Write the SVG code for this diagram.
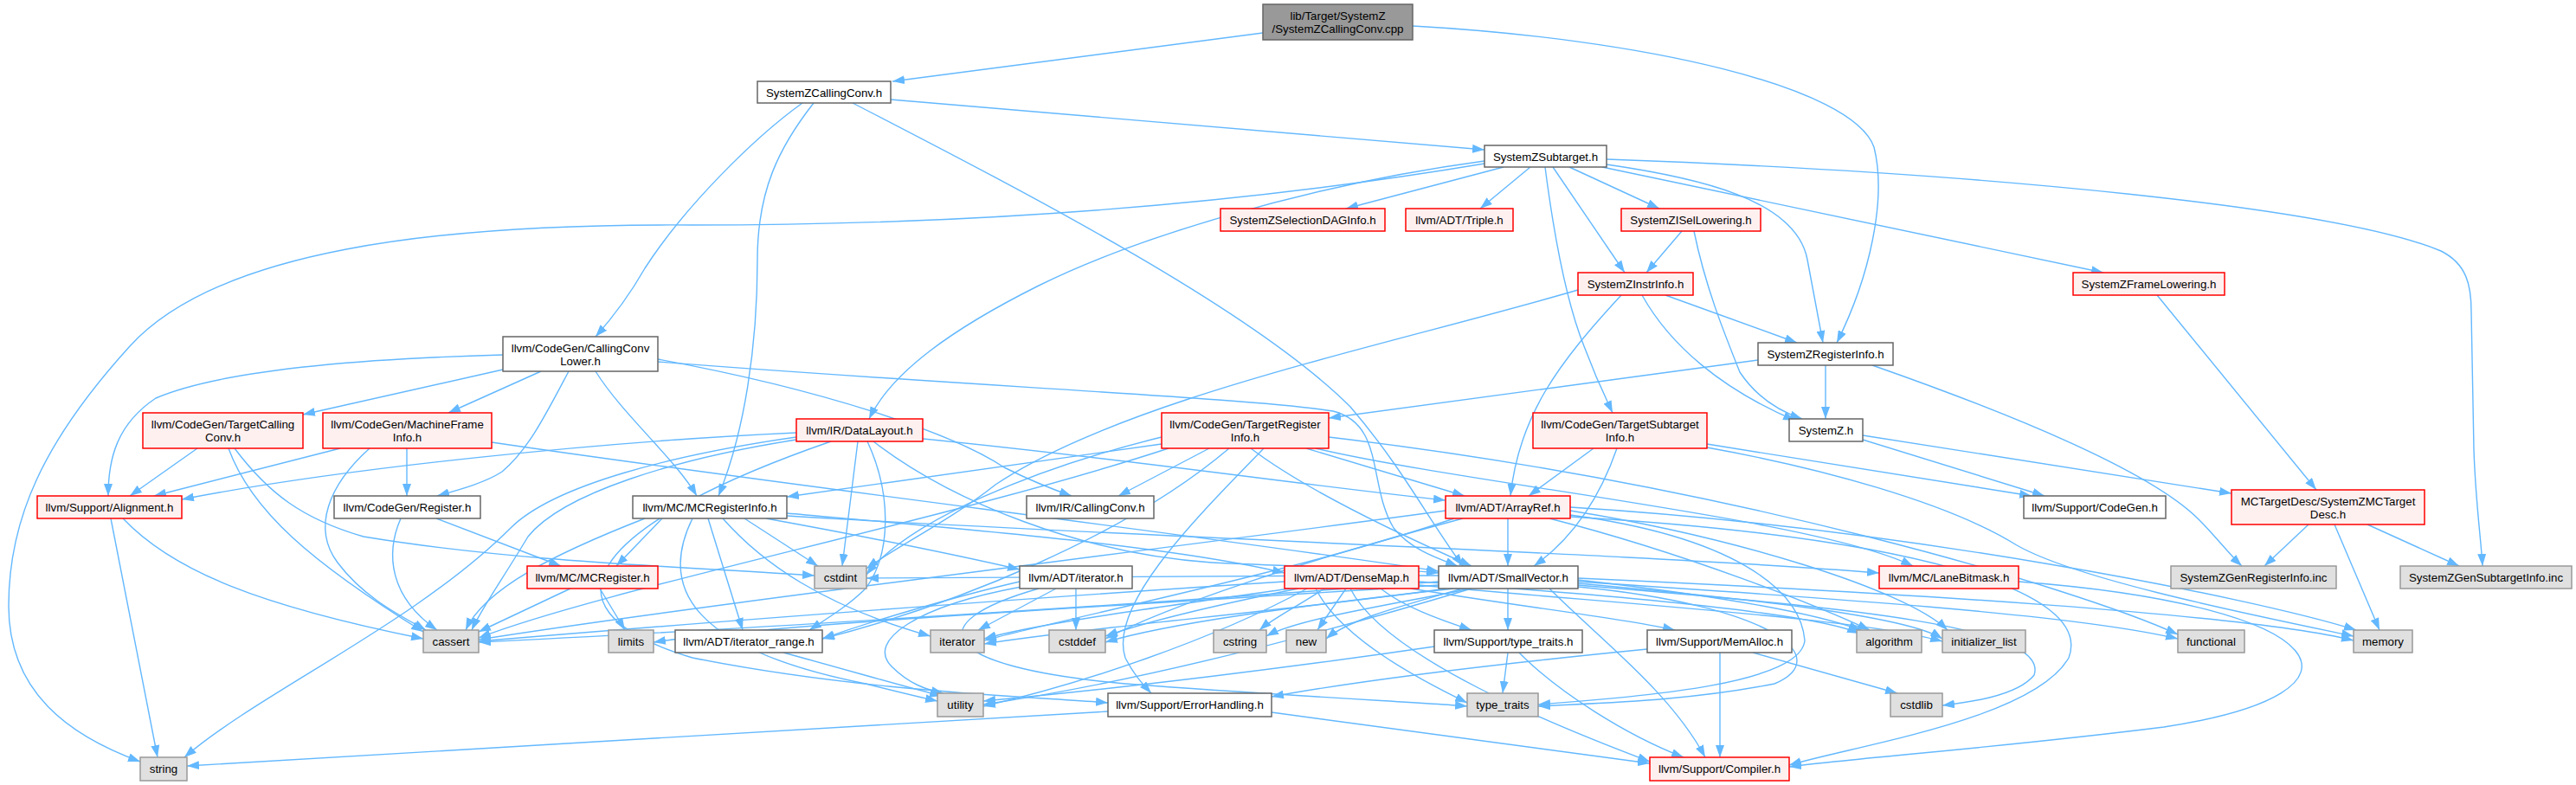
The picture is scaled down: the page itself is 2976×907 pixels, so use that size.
<svg xmlns="http://www.w3.org/2000/svg" width="2976" height="907" viewBox="0 0 2976 907">
<defs>
<marker id="a" markerUnits="userSpaceOnUse" markerWidth="14" markerHeight="10" refX="14" refY="5" orient="auto"><path d="M0,0 L14,5 L0,10 z" fill="#63b8ff"/></marker>
<style>
.e{fill:none;stroke:#63b8ff;stroke-width:1.4;marker-end:url(#a)}
rect{stroke-width:1.5}
.w{fill:#fff;stroke:#666}
.r{fill:#fff0f0;stroke:#f00}
.g{fill:#e0e0e0;stroke:#999}
.t{fill:#999;stroke:#666}
text{font-family:"Liberation Sans",Arial,sans-serif;font-size:13.3px;text-anchor:middle;fill:#000}
</style>
</defs>
<rect x="0" y="0" width="2976" height="907" fill="#fff" stroke="none"/>
<g id="edges">
<path class="e" d="M1459,38 L1031,94"/>
<path class="e" d="M1632,30 C1900,45 2140,100 2165,170 C2180,230 2160,320 2122,396"/>
<path class="e" d="M1029,115 L1715,173"/>
<path class="e" d="M927,119 C870,160 790,240 745,310 C725,345 705,370 688,389"/>
<path class="e" d="M940,119 C900,170 875,220 875,300 C875,400 860,500 830,573"/>
<path class="e" d="M985,119 C1200,230 1450,360 1560,470 C1620,540 1650,600 1690,654"/>
<path class="e" d="M1737,193 L1555,241"/>
<path class="e" d="M1768,193 L1710,241"/>
<path class="e" d="M1813,193 L1917,241"/>
<path class="e" d="M1794,193 L1877,315"/>
<path class="e" d="M1856,190 C1960,205 2075,230 2088,300 L2106,396"/>
<path class="e" d="M1785,193 C1795,270 1810,350 1830,400 C1845,440 1855,460 1863,477"/>
<path class="e" d="M1715,186 C1500,215 1300,280 1200,330 C1100,380 1030,430 1004,484"/>
<path class="e" d="M1715,189 C1500,225 1200,260 800,260 C500,258 250,290 150,400 C50,510 10,600 10,700 C10,800 80,850 162,880"/>
<path class="e" d="M1851,193 L2430,315"/>
<path class="e" d="M1856,184 C2300,200 2700,240 2820,290 C2850,305 2855,330 2855,360 L2858,520 C2860,580 2866,620 2868,654"/>
<path class="e" d="M1943,267 L1902,315"/>
<path class="e" d="M1957,267 C1970,330 1990,380 2010,430 C2030,460 2055,475 2082,484"/>
<path class="e" d="M1924,341 L2076,396"/>
<path class="e" d="M1897,341 C1930,400 1990,450 2074,486"/>
<path class="e" d="M1873,341 C1800,420 1755,480 1745,573"/>
<path class="e" d="M1823,335 C1600,400 1300,460 1150,560 C1100,600 1030,635 1001,657"/>
<path class="e" d="M2109,422 L2109,484"/>
<path class="e" d="M2031,416 L1535,483"/>
<path class="e" d="M2163,422 C2300,470 2480,540 2540,600 C2560,620 2575,640 2590,654"/>
<path class="e" d="M2152,503 L2578,570"/>
<path class="e" d="M2152,508 L2362,573"/>
<path class="e" d="M2492,341 L2676,566"/>
<path class="e" d="M2667,606 L2616,654"/>
<path class="e" d="M2735,606 L2841,654"/>
<path class="e" d="M2697,606 L2749,728"/>
<path class="e" d="M1841,518 L1766,573"/>
<path class="e" d="M1868,518 C1850,570 1820,620 1772,654"/>
<path class="e" d="M1972,513 L2347,573"/>
<path class="e" d="M1972,517 C2100,540 2250,580 2330,630 C2400,670 2600,710 2719,735"/>
<path class="e" d="M581,410 C400,415 250,430 180,460 C135,490 125,530 125,573"/>
<path class="e" d="M581,427 L350,479"/>
<path class="e" d="M625,429 L518,477"/>
<path class="e" d="M657,429 C630,480 610,520 580,545 C560,558 530,566 505,573"/>
<path class="e" d="M688,429 C720,480 780,530 805,573"/>
<path class="e" d="M760,415 C950,450 1100,500 1160,540 C1190,555 1215,565 1238,573"/>
<path class="e" d="M760,418 C1100,445 1450,460 1540,475 C1600,490 1580,560 1610,610 C1630,635 1660,645 1684,654"/>
<path class="e" d="M228,518 L150,573"/>
<path class="e" d="M264,518 C290,590 360,650 489,730"/>
<path class="e" d="M271,518 C310,570 350,600 420,620 C600,650 800,655 941,665"/>
<path class="e" d="M393,518 L178,573"/>
<path class="e" d="M470,518 L470,573"/>
<path class="e" d="M427,518 C380,560 360,610 390,650 C420,690 460,710 492,728"/>
<path class="e" d="M568,511 C900,560 1400,620 1662,660"/>
<path class="e" d="M504,599 L648,654"/>
<path class="e" d="M463,599 C445,640 450,690 505,728"/>
<path class="e" d="M128,599 L182,875"/>
<path class="e" d="M142,599 C200,660 300,700 489,738"/>
<path class="e" d="M659,680 L553,730"/>
<path class="e" d="M693,680 L722,728"/>
<path class="e" d="M765,599 L712,654"/>
<path class="e" d="M745,599 C640,640 560,680 538,728"/>
<path class="e" d="M860,599 L945,654"/>
<path class="e" d="M818,599 L858,728"/>
<path class="e" d="M835,599 C880,650 950,700 1075,735"/>
<path class="e" d="M885,599 C1000,620 1100,640 1178,658"/>
<path class="e" d="M800,599 C760,680 800,750 1000,790 C1040,800 1060,805 1083,810"/>
<path class="e" d="M909,593 C1100,610 1350,630 1484,662"/>
<path class="e" d="M909,596 C1300,620 1900,640 2171,662"/>
<path class="e" d="M920,500 C700,510 400,540 210,577"/>
<path class="e" d="M920,508 C780,530 650,570 610,620 C580,670 555,705 545,728"/>
<path class="e" d="M920,505 C780,525 640,560 590,610 C480,720 300,800 213,875"/>
<path class="e" d="M991,510 L973,654"/>
<path class="e" d="M1066,507 C1300,530 1500,560 1670,578"/>
<path class="e" d="M1002,510 C1030,570 1030,640 1000,680 C980,700 955,715 935,728"/>
<path class="e" d="M1009,510 C1100,580 1250,640 1400,650 C1500,655 1600,656 1662,662"/>
<path class="e" d="M960,510 C700,600 600,700 800,760 C1000,800 1200,805 1280,812"/>
<path class="e" d="M1342,513 L909,574"/>
<path class="e" d="M1397,518 L1292,573"/>
<path class="e" d="M1509,518 L1692,573"/>
<path class="e" d="M1520,518 C1700,560 2100,600 2210,654"/>
<path class="e" d="M1445,518 C1500,560 1600,610 1700,654"/>
<path class="e" d="M1350,518 C1100,600 700,680 553,737"/>
<path class="e" d="M1342,505 C1200,540 1050,600 1001,664"/>
<path class="e" d="M1420,518 C1300,620 1100,700 950,738"/>
<path class="e" d="M1535,505 C2000,560 2400,680 2516,733"/>
<path class="e" d="M1460,518 C1380,600 1280,700 1300,760 C1310,780 1320,790 1330,801"/>
<path class="e" d="M1742,599 L1742,654"/>
<path class="e" d="M1670,590 C1300,640 800,700 553,739"/>
<path class="e" d="M1690,599 C1500,650 1350,700 1277,738"/>
<path class="e" d="M1680,599 C1500,660 1250,710 1137,740"/>
<path class="e" d="M1790,599 C1950,640 2100,700 2160,728"/>
<path class="e" d="M1814,590 C2000,620 2200,680 2250,728"/>
<path class="e" d="M1814,586 C2200,610 2600,690 2722,728"/>
<path class="e" d="M1814,595 C2000,620 2080,680 2085,740 C2080,790 1900,805 1777,814"/>
<path class="e" d="M1814,597 C2200,620 2420,680 2390,760 C2350,830 2150,860 2067,884"/>
<path class="e" d="M1742,680 L1742,728"/>
<path class="e" d="M1790,680 C1850,740 1930,800 1970,875"/>
<path class="e" d="M1823,670 C2000,690 2100,710 2150,728"/>
<path class="e" d="M1662,672 C1300,700 800,730 553,742"/>
<path class="e" d="M1680,680 C1500,700 1350,720 1277,742"/>
<path class="e" d="M1662,665 C1400,665 1100,668 1001,668"/>
<path class="e" d="M1823,676 C2100,700 2370,720 2350,780 C2330,805 2270,812 2244,815"/>
<path class="e" d="M1700,680 C1600,700 1500,715 1463,735"/>
<path class="e" d="M1823,672 C2100,690 2400,710 2516,738"/>
<path class="e" d="M1823,674 C2000,690 2200,710 2244,738"/>
<path class="e" d="M1670,680 C1500,705 1250,725 1137,744"/>
<path class="e" d="M1662,676 C1300,700 900,720 755,742"/>
<path class="e" d="M1823,668 C2200,685 2600,710 2719,740"/>
<path class="e" d="M1690,680 C1620,700 1560,715 1532,738"/>
<path class="e" d="M1823,678 C2050,700 2120,760 2050,790 C1950,810 1850,812 1777,816"/>
<path class="e" d="M1700,680 C1500,740 1300,790 1136,814"/>
<path class="e" d="M1555,680 L1522,728"/>
<path class="e" d="M1595,680 C1620,700 1660,715 1700,728"/>
<path class="e" d="M1630,680 C1750,700 1880,715 1935,728"/>
<path class="e" d="M1639,672 C1900,690 2100,710 2148,732"/>
<path class="e" d="M1484,672 C1200,690 800,720 553,741"/>
<path class="e" d="M1500,680 C1400,700 1320,720 1277,735"/>
<path class="e" d="M1530,680 C1500,700 1470,715 1455,728"/>
<path class="e" d="M1490,680 C1350,700 1200,720 1137,738"/>
<path class="e" d="M1510,680 C1400,740 1250,790 1136,816"/>
<path class="e" d="M1520,680 C1550,740 1650,790 1695,812"/>
<path class="e" d="M1560,680 C1600,760 1800,840 1906,880"/>
<path class="e" d="M1639,676 C1900,700 2150,715 2244,741"/>
<path class="e" d="M1178,672 C1100,690 1000,720 950,738"/>
<path class="e" d="M1243,680 L1243,728"/>
<path class="e" d="M1220,680 L1130,728"/>
<path class="e" d="M1180,678 C1060,700 1000,740 1030,770 C1050,790 1070,797 1090,801"/>
<path class="e" d="M1200,680 C1060,720 1080,770 1300,790 C1500,805 1650,812 1695,816"/>
<path class="e" d="M905,754 C1000,780 1050,795 1088,804"/>
<path class="e" d="M1742,754 L1736,801"/>
<path class="e" d="M1657,747 C1500,770 1300,795 1136,810"/>
<path class="e" d="M1755,754 C1800,800 1880,850 1945,875"/>
<path class="e" d="M1987,754 L1987,875"/>
<path class="e" d="M1903,750 C1700,770 1550,790 1469,805"/>
<path class="e" d="M2025,754 L2192,801"/>
<path class="e" d="M1469,823 L1906,882"/>
<path class="e" d="M1280,822 L216,885"/>
<path class="e" d="M2332,672 C2700,700 2760,800 2500,840 C2300,865 2150,875 2067,886"/>
</g>
<g id="n_top"><rect class="t" x="1459" y="5" width="173" height="41"/><text x="1545.5" y="23">lib/Target/SystemZ</text><text x="1545.5" y="38">/SystemZCallingConv.cpp</text></g>
<g id="n_cc"><rect class="w" x="875" y="94" width="154" height="25"/><text x="952" y="111.5">SystemZCallingConv.h</text></g>
<g id="n_sub"><rect class="w" x="1715" y="168" width="141" height="25"/><text x="1785.5" y="185.5">SystemZSubtarget.h</text></g>
<g id="n_sdag"><rect class="r" x="1410" y="241" width="190" height="26"/><text x="1505" y="258.8">SystemZSelectionDAGInfo.h</text></g>
<g id="n_triple"><rect class="r" x="1624" y="241" width="124" height="26"/><text x="1686" y="258.8">llvm/ADT/Triple.h</text></g>
<g id="n_isel"><rect class="r" x="1873" y="241" width="161" height="26"/><text x="1953.5" y="258.8">SystemZISelLowering.h</text></g>
<g id="n_frame"><rect class="r" x="2395" y="315" width="175" height="26"/><text x="2482.5" y="332.8">SystemZFrameLowering.h</text></g>
<g id="n_instr"><rect class="r" x="1823" y="315" width="133" height="26"/><text x="1889.5" y="332.8">SystemZInstrInfo.h</text></g>
<g id="n_reginfo"><rect class="w" x="2031" y="396" width="156" height="26"/><text x="2109" y="413.8">SystemZRegisterInfo.h</text></g>
<g id="n_systemz"><rect class="w" x="2067" y="484" width="85" height="26"/><text x="2109.5" y="501.8">SystemZ.h</text></g>
<g id="n_tsi"><rect class="r" x="1771" y="477" width="201" height="41"/><text x="1871.5" y="494.5">llvm/CodeGen/TargetSubtarget</text><text x="1871.5" y="509.5">Info.h</text></g>
<g id="n_arrayref"><rect class="r" x="1670" y="573" width="144" height="26"/><text x="1742" y="590.8">llvm/ADT/ArrayRef.h</text></g>
<g id="n_mctd"><rect class="r" x="2578" y="566" width="223" height="40"/><text x="2689.5" y="583.5">MCTargetDesc/SystemZMCTarget</text><text x="2689.5" y="598.5">Desc.h</text></g>
<g id="n_cgh"><rect class="w" x="2338" y="573" width="164" height="26"/><text x="2420" y="590.8">llvm/Support/CodeGen.h</text></g>
<g id="n_genreg"><rect class="g" x="2508" y="654" width="191" height="26"/><text x="2603.5" y="671.8">SystemZGenRegisterInfo.inc</text></g>
<g id="n_gensub"><rect class="g" x="2773" y="654" width="198" height="26"/><text x="2872" y="671.8">SystemZGenSubtargetInfo.inc</text></g>
<g id="n_lane"><rect class="r" x="2171" y="654" width="161" height="26"/><text x="2251.5" y="671.8">llvm/MC/LaneBitmask.h</text></g>
<g id="n_initl"><rect class="g" x="2244" y="728" width="96" height="26"/><text x="2292" y="745.8">initializer_list</text></g>
<g id="n_functional"><rect class="g" x="2516" y="728" width="77" height="26"/><text x="2554.5" y="745.8">functional</text></g>
<g id="n_memory"><rect class="g" x="2719" y="728" width="68" height="26"/><text x="2753" y="745.8">memory</text></g>
<g id="n_cstdlib"><rect class="g" x="2184" y="801" width="60" height="27"/><text x="2214" y="819">cstdlib</text></g>
<g id="n_dl"><rect class="r" x="920" y="484" width="146" height="26"/><text x="993" y="501.8">llvm/IR/DataLayout.h</text></g>
<g id="n_tri"><rect class="r" x="1342" y="477" width="193" height="41"/><text x="1438.5" y="494.5">llvm/CodeGen/TargetRegister</text><text x="1438.5" y="509.5">Info.h</text></g>
<g id="n_mcri"><rect class="w" x="731" y="573" width="178" height="26"/><text x="820" y="590.8">llvm/MC/MCRegisterInfo.h</text></g>
<g id="n_ircc"><rect class="w" x="1186" y="573" width="147" height="26"/><text x="1259.5" y="590.8">llvm/IR/CallingConv.h</text></g>
<g id="n_ccl"><rect class="w" x="581" y="389" width="179" height="40"/><text x="670.5" y="406.5">llvm/CodeGen/CallingConv</text><text x="670.5" y="421.5">Lower.h</text></g>
<g id="n_tcc"><rect class="r" x="165" y="477" width="185" height="41"/><text x="257.5" y="494.5">llvm/CodeGen/TargetCalling</text><text x="257.5" y="509.5">Conv.h</text></g>
<g id="n_mfi"><rect class="r" x="373" y="477" width="195" height="41"/><text x="470.5" y="494.5">llvm/CodeGen/MachineFrame</text><text x="470.5" y="509.5">Info.h</text></g>
<g id="n_align"><rect class="r" x="43" y="573" width="167" height="26"/><text x="126.5" y="590.8">llvm/Support/Alignment.h</text></g>
<g id="n_reg"><rect class="w" x="386" y="573" width="169" height="26"/><text x="470.5" y="590.8">llvm/CodeGen/Register.h</text></g>
<g id="n_mcreg"><rect class="r" x="609" y="654" width="151" height="26"/><text x="684.5" y="671.8">llvm/MC/MCRegister.h</text></g>
<g id="n_cassert"><rect class="g" x="489" y="728" width="64" height="26"/><text x="521" y="745.8">cassert</text></g>
<g id="n_limits"><rect class="g" x="703" y="728" width="52" height="26"/><text x="729" y="745.8">limits</text></g>
<g id="n_string"><rect class="g" x="162" y="875" width="54" height="27"/><text x="189" y="893">string</text></g>
<g id="n_cstdint"><rect class="g" x="941" y="654" width="60" height="26"/><text x="971" y="671.8">cstdint</text></g>
<g id="n_iter"><rect class="w" x="1178" y="654" width="130" height="26"/><text x="1243" y="671.8">llvm/ADT/iterator.h</text></g>
<g id="n_iterrange"><rect class="w" x="780" y="728" width="170" height="26"/><text x="865" y="745.8">llvm/ADT/iterator_range.h</text></g>
<g id="n_iterator"><rect class="g" x="1075" y="728" width="62" height="26"/><text x="1106" y="745.8">iterator</text></g>
<g id="n_cstddef"><rect class="g" x="1212" y="728" width="65" height="26"/><text x="1244.5" y="745.8">cstddef</text></g>
<g id="n_cstring"><rect class="g" x="1402" y="728" width="61" height="26"/><text x="1432.5" y="745.8">cstring</text></g>
<g id="n_utility"><rect class="g" x="1083" y="801" width="53" height="27"/><text x="1109.5" y="819">utility</text></g>
<g id="n_eh"><rect class="w" x="1280" y="801" width="189" height="27"/><text x="1374.5" y="819">llvm/Support/ErrorHandling.h</text></g>
<g id="n_densemap"><rect class="r" x="1484" y="654" width="155" height="26"/><text x="1561.5" y="671.8">llvm/ADT/DenseMap.h</text></g>
<g id="n_sv"><rect class="w" x="1662" y="654" width="161" height="26"/><text x="1742.5" y="671.8">llvm/ADT/SmallVector.h</text></g>
<g id="n_new"><rect class="g" x="1486" y="728" width="46" height="26"/><text x="1509" y="745.8">new</text></g>
<g id="n_tt"><rect class="w" x="1657" y="728" width="171" height="26"/><text x="1742.5" y="745.8">llvm/Support/type_traits.h</text></g>
<g id="n_memalloc"><rect class="w" x="1903" y="728" width="167" height="26"/><text x="1986.5" y="745.8">llvm/Support/MemAlloc.h</text></g>
<g id="n_algorithm"><rect class="g" x="2145" y="728" width="75" height="26"/><text x="2182.5" y="745.8">algorithm</text></g>
<g id="n_typetraits"><rect class="g" x="1695" y="801" width="82" height="27"/><text x="1736" y="819">type_traits</text></g>
<g id="n_compiler"><rect class="r" x="1906" y="875" width="161" height="27"/><text x="1986.5" y="893">llvm/Support/Compiler.h</text></g>
</svg>
